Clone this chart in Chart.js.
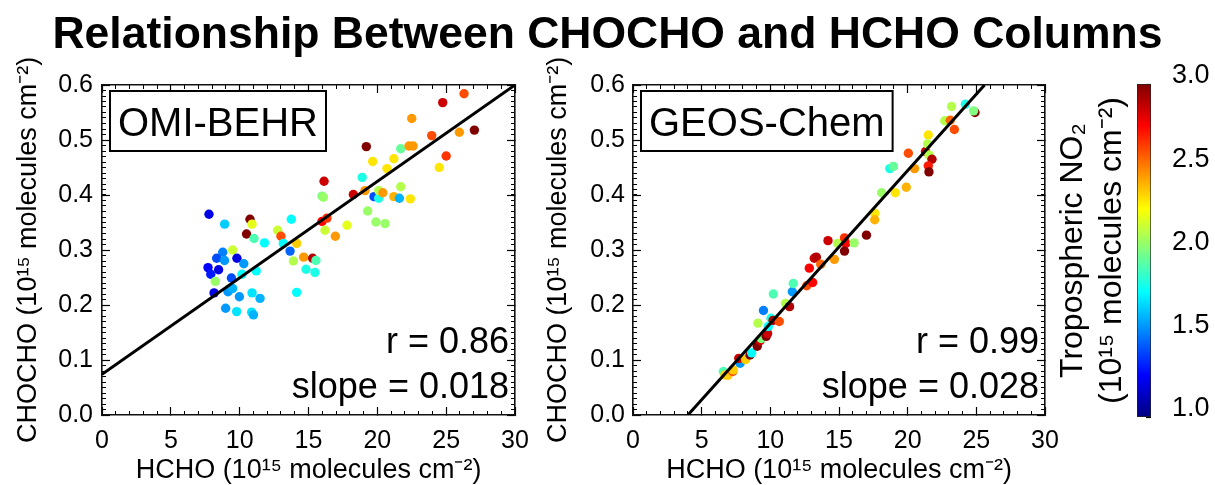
<!DOCTYPE html>
<html><head><meta charset="utf-8">
<script src="https://cdn.jsdelivr.net/npm/chart.js@4.4.1/dist/chart.umd.min.js"></script>
<style>
html,body{margin:0;padding:0;background:#fff;}
#wrap{position:relative;width:1215px;height:485px;background:#fff;}
#wrap canvas{position:absolute;left:0;top:0;}
</style></head>
<body><div id="wrap">
<canvas id="c1" width="1215" height="485"></canvas>
<canvas id="c2" width="1215" height="485"></canvas>
<canvas id="c3" width="1215" height="485"></canvas>
</div>
<script>
// ---------------- DATA ----------------
const TITLE = 'Relationship Between CHOCHO and HCHO Columns';
const X_TITLE = 'HCHO (10¹⁵ molecules cm⁻²)';
const Y_TITLE = 'CHOCHO (10¹⁵ molecules cm⁻²)';
const CB_TITLE = ['Tropospheric NO₂', '(10¹⁵ molecules cm⁻²)'];
const PANEL_LABELS = ['OMI-BEHR', 'GEOS-Chem'];
const R_TEXT = ['r = 0.86', 'r = 0.99'];
const SLOPE_TEXT = ['slope = 0.018', 'slope = 0.028'];

// OMI-BEHR panel
const omiHCHO   = [7.77,8.91,10.75,10.9,10.5,11.04,11.8,12.76,13.0,13.75,13.17,14.14,13.66,13.9,14.65,15.3,15.54,14.82,15.47,14.14,
                   9.49,8.77,8.33,8.9,9.8,10.3,7.7,8.47,7.9,11.2,10.17,9.4,8.23,8.14,9.15,9.49,9.98,10.9,11.48,8.98,9.78,10.87,11.0,
                   16.13,15.98,16.08,15.98,16.34,16.2,16.95,17.8,18.26,18.9,19.2,19.66,19.1,19.76,20.1,20.1,20.4,19.3,19.9,20.56,
                   20.7,21.2,21.7,22.3,22.6,22.5,21.7,21.2,21.6,22.4,23.95,24.75,26.3,25.96,27.05,25.0,24.5];
const omiCHOCHO = [0.365,0.347,0.356,0.347,0.329,0.321,0.313,0.336,0.325,0.356,0.312,0.312,0.298,0.28,0.287,0.285,0.281,0.265,0.259,0.223,
                   0.3,0.296,0.285,0.281,0.285,0.275,0.268,0.264,0.256,0.262,0.256,0.249,0.243,0.222,0.224,0.23,0.215,0.222,0.212,0.194,0.188,0.187,0.182,
                   0.425,0.398,0.396,0.352,0.358,0.336,0.325,0.345,0.401,0.432,0.488,0.461,0.408,0.397,0.394,0.408,0.404,0.371,0.351,0.348,
                   0.448,0.466,0.484,0.489,0.489,0.539,0.415,0.397,0.394,0.393,0.508,0.568,0.584,0.514,0.518,0.471,0.45];
const omiNO2    = [1.2,1.65,3.0,2.2,3.0,1.9,1.75,2.15,2.6,1.75,1.75,2.35,1.45,2.1,2.45,2.9,1.9,1.8,1.8,1.75,
                   2.15,1.5,1.4,1.55,1.2,1.55,1.25,1.2,1.3,1.75,1.75,1.4,2.05,1.2,1.55,1.6,1.55,1.7,1.6,1.55,1.7,1.7,1.6,
                   2.85,2.0,2.05,2.75,2.65,2.15,2.45,2.2,2.85,1.8,3.0,2.3,2.45,1.4,1.8,2.1,2.45,2.05,2.05,2.05,
                   2.3,2.3,1.95,2.45,2.45,2.45,2.1,2.4,1.6,2.3,2.6,2.85,2.6,2.45,3.0,2.65,2.3];
const omiFitX = [0, 30];
const omiFitY = [0.074, 0.6];

// GEOS-Chem panel
const gcHCHO   = [6.58,6.7,6.9,7.26,7.3,7.8,7.7,8.2,8.52,8.64,9.05,9.25,9.34,9.7,9.8,9.85,10.05,9.1,9.5,10.2,10.65,10.22,11.1,11.4,11.6,11.67,
                  12.65,13.08,12.84,13.2,13.35,13.67,14.2,14.66,14.9,15.4,15.5,15.4,16.1,17.0,17.6,17.6,18.1,18.7,18.96,19.1,19.9,20.05,20.5,
                  21.3,21.5,21.45,21.55,21.77,21.5,21.55,22.7,23.1,23.4,23.2,24.2,24.9,24.8];
const gcCHOCHO = [0.079,0.073,0.072,0.079,0.082,0.094,0.103,0.101,0.109,0.113,0.125,0.135,0.139,0.143,0.148,0.161,0.176,0.167,0.19,0.172,0.17,0.22,0.203,0.197,0.224,0.239,
                  0.235,0.241,0.267,0.285,0.287,0.274,0.317,0.283,0.312,0.322,0.312,0.298,0.313,0.327,0.367,0.355,0.404,0.448,0.452,0.404,0.414,0.476,0.448,
                  0.479,0.509,0.493,0.473,0.465,0.453,0.442,0.535,0.536,0.519,0.561,0.565,0.55,0.553];
const gcNO2    = [1.9,2.35,2.35,2.6,2.35,1.55,2.85,2.35,3.0,1.75,3.0,2.85,2.0,3.0,2.85,1.75,1.8,2.1,1.5,2.9,2.6,1.9,2.1,2.9,1.55,1.9,
                  2.6,2.75,2.75,2.85,2.9,2.55,2.85,2.45,2.1,2.65,2.75,3.0,2.05,3.0,2.3,2.4,2.05,1.8,1.95,2.3,2.4,2.6,2.45,
                  2.85,2.3,2.1,2.1,2.9,2.7,3.0,2.1,2.55,2.6,2.1,1.8,3.0,2.0];
const gcFitX = [4.0, 25.6];
const gcFitY = [0.0, 0.6];

const X_RANGE = [0, 30];
const Y_RANGE = [0, 0.6];
const CB_RANGE = [1.0, 3.0];

// ---------------- STYLE ----------------
const FONT = "'Liberation Sans', Arial, Helvetica, sans-serif";
function clamp(v){return Math.max(0, Math.min(1, v));}
function jet(v){
  const t = clamp((v - CB_RANGE[0]) / (CB_RANGE[1] - CB_RANGE[0]));
  const r = clamp(1.5 - Math.abs(4*t - 3)), g = clamp(1.5 - Math.abs(4*t - 2)), b = clamp(1.5 - Math.abs(4*t - 1));
  return `rgb(${Math.round(r*255)},${Math.round(g*255)},${Math.round(b*255)})`;
}

function panelScales(yWidth, rightWidth, yTitlePad, yLabelPad){
  const major = {drawOnChartArea:false, drawTicks:true, tickLength:-8, tickColor:'#000', tickWidth:1.2};
  const minor = {drawOnChartArea:false, drawTicks:true, tickLength:-4, tickColor:'#000', tickWidth:1};
  const border = {display:true, color:'#111', width:1.6};
  const noBorder = {display:false};
  const base = (pos, axisRange, step, grid, w, extra) => Object.assign({
    type:'linear', position:pos, min:axisRange[0], max:axisRange[1], weight:w, grid:grid,
    border: w ? border : noBorder,
    ticks:{display:false, stepSize:step, autoSkip:false}
  }, extra);
  return {
    x: base('bottom', X_RANGE, 5, major, 1, {
      ticks:{stepSize:5, autoSkip:false, maxRotation:0, padding:19, color:'#000', font:{family:FONT, size:25}},
      title:{display:true, text:X_TITLE, color:'#000', font:{family:FONT, size:27, lineHeight:1.1}, padding:{top:0, bottom:0}},
      afterFit:s=>{s.height=70;}
    }),
    xMinor: base('bottom', X_RANGE, 1, minor, 0, {afterFit:s=>{s.height=0;}}),
    xTop: base('top', X_RANGE, 5, major, 1, {afterFit:s=>{s.height=0;}}),
    xTopMinor: base('top', X_RANGE, 1, minor, 0, {afterFit:s=>{s.height=0;}}),
    y: base('left', Y_RANGE, 0.1, major, 1, {
      ticks:{stepSize:0.1, autoSkip:false, padding:yLabelPad, color:'#000', font:{family:FONT, size:25}, callback:v=>Number(v).toFixed(1)},
      title:{display:true, text:Y_TITLE, color:'#000', font:{family:FONT, size:27}, padding:{top:yTitlePad, bottom:0}},
      afterFit:s=>{s.width=yWidth;}
    }),
    yMinor: base('left', Y_RANGE, 0.01, minor, 0, {afterFit:s=>{s.width=0;}}),
    yRight: base('right', Y_RANGE, 0.1, major, 1, {afterFit:s=>{s.width=rightWidth;}}),
    yRightMinor: base('right', Y_RANGE, 0.01, minor, 0, {afterFit:s=>{s.width=0;}})
  };
}

function annotPlugin(idx){
  return {
    id:'annot'+idx,
    afterDatasetsDraw(chart){
      const {ctx, chartArea:a} = chart;
      ctx.save();
      ctx.fillStyle = '#000'; ctx.strokeStyle = '#000';
      ctx.font = `40px ${FONT}`;
      const w = ctx.measureText(PANEL_LABELS[idx]).width;
      const bx = a.left + 8, by = a.top + 6, bw = w + 16, bh = 60;
      ctx.fillStyle = '#fff'; ctx.fillRect(bx, by, bw, bh);
      ctx.lineWidth = 2; ctx.strokeRect(bx, by, bw, bh);
      ctx.fillStyle = '#000'; ctx.textBaseline = 'alphabetic'; ctx.textAlign = 'left';
      ctx.fillText(PANEL_LABELS[idx], bx + 8, by + 45);
      ctx.font = `36px ${FONT}`; ctx.textAlign = 'right';
      ctx.fillText(R_TEXT[idx], a.right - 6, 353);
      ctx.fillText(SLOPE_TEXT[idx], a.right - 6, 398);
      ctx.restore();
    }
  };
}

function scatterChart(id, xs, ys, no2, fitX, fitY, idx, padding, yWidth, rightWidth, yTitlePad, yLabelPad, withTitle){
  const pts = xs.map((x,i)=>({x:x, y:ys[i]}));
  return new Chart(document.getElementById(id), {
    data:{datasets:[
      {type:'scatter', data:pts, pointBackgroundColor:no2.map(jet), pointBorderWidth:0, pointRadius:4.7, order:2},
      {type:'line', data:fitX.map((x,i)=>({x:x, y:fitY[i]})), borderColor:'#000', borderWidth:3, pointRadius:0, order:1}
    ]},
    options:{
      responsive:false, animation:false, devicePixelRatio:1,
      layout:{padding:padding},
      scales:panelScales(yWidth, rightWidth, yTitlePad, yLabelPad),
      plugins:{
        legend:{display:false}, tooltip:{enabled:false},
        title:{display:withTitle, text:TITLE, color:'#000', font:{family:FONT, size:44.5, weight:'bold'}, padding:{top:9, bottom:22.6}}
      }
    },
    plugins:[annotPlugin(idx)]
  });
}

scatterChart('c1', omiHCHO, omiCHOCHO, omiNO2, omiFitX, omiFitY, 0, {left:0, top:0, right:0, bottom:0}, 102, 700, 12, 17, true);
scatterChart('c2', gcHCHO, gcCHOCHO, gcNO2, gcFitX, gcFitY, 1, {left:530, top:85, right:0, bottom:0}, 103, 170, 12, 16, false);

// ---------------- COLORBAR ----------------
new Chart(document.getElementById('c3'), {
  type:'bar',
  data:{labels:[''], datasets:[{
    data:[[CB_RANGE[0], CB_RANGE[1]]],
    yAxisID:'cb',
    barPercentage:1, categoryPercentage:1, borderWidth:1, borderColor:'#222', borderSkipped:false,
    backgroundColor:(c)=>{
      const a = c.chart.chartArea; if(!a) return '#888';
      const g = c.chart.ctx.createLinearGradient(0, a.bottom, 0, a.top);
      for(let i=0;i<=40;i++){ const v = CB_RANGE[0] + (CB_RANGE[1]-CB_RANGE[0])*i/40; g.addColorStop(i/40, jet(v)); }
      return g;
    }
  }]},
  options:{
    responsive:false, animation:false, devicePixelRatio:1,
    layout:{padding:{left:1040, top:84, right:0, bottom:68}},
    scales:{
      x:{display:false},
      cb:{type:'linear', position:'right', min:CB_RANGE[0], max:CB_RANGE[1],
          grid:{drawOnChartArea:false, tickLength:-5, tickColor:'#000', tickWidth:1.2},
          border:{display:false},
          ticks:{stepSize:0.5, padding:26, labelOffset:-8, color:'#000', font:{family:FONT, size:27}, callback:v=>Number(v).toFixed(1)},
          afterFit:s=>{s.width=64;}},
      cbTitle:{type:'linear', position:'left', min:CB_RANGE[0], max:CB_RANGE[1],
          grid:{display:false}, border:{display:false}, ticks:{display:false},
          title:{display:true, text:CB_TITLE, color:'#000', font:{family:FONT, size:32, lineHeight:1.22}, padding:{top:13.5, bottom:0}},
          afterFit:s=>{s.width=97;}}
    },
    plugins:{legend:{display:false}, tooltip:{enabled:false}}
  }
});
</script>
</body></html>
